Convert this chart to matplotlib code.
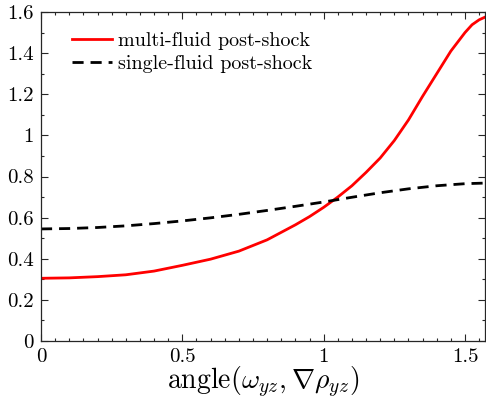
import numpy as np
import matplotlib
matplotlib.use('Agg')
import matplotlib.pyplot as plt
from matplotlib.ticker import MultipleLocator, FuncFormatter

plt.rcParams['font.family'] = ['cmr10', 'DejaVu Serif']
plt.rcParams['mathtext.fontset'] = 'cm'
plt.rcParams['axes.formatter.use_mathtext'] = True

# values
angle_multi = [0, 0.1, 0.2, 0.3, 0.4, 0.5, 0.6, 0.7, 0.8, 0.9, 0.95, 1.0,
               1.05, 1.1, 1.15, 1.2, 1.25, 1.3, 1.35, 1.4, 1.45, 1.5, 1.525,
               1.55, np.pi / 2]
multi_fluid = [0.305, 0.307, 0.313, 0.322, 0.34, 0.368, 0.398, 0.437, 0.492,
               0.565, 0.605, 0.65, 0.70, 0.755, 0.82, 0.89, 0.975, 1.075,
               1.19, 1.30, 1.41, 1.50, 1.538, 1.562, 1.575]
angle_single = [0, 0.1, 0.2, 0.3, 0.4, 0.5, 0.6, 0.7, 0.8, 0.9, 1.0, 1.1,
                1.2, 1.3, 1.4, 1.5, np.pi / 2]
single_fluid = [0.545, 0.547, 0.552, 0.56, 0.571, 0.584, 0.599, 0.616, 0.635,
                0.655, 0.676, 0.699, 0.721, 0.74, 0.755, 0.765, 0.768]

fig = plt.figure(figsize=(4.86, 4.0), dpi=100)
ax = fig.add_axes([41 / 486, 59 / 400, 444 / 486, 329 / 400])

ax.plot(angle_multi, multi_fluid, color='red', lw=2.0,
        label='multi-fluid post-shock')
ax.plot(angle_single, single_fluid, color='black', lw=2.0,
        dashes=(4, 2.5), label='single-fluid post-shock')

ax.set_xlim(0, np.pi / 2)
ax.set_ylim(0, 1.6)
ax.xaxis.set_major_locator(MultipleLocator(0.5))
ax.xaxis.set_minor_locator(MultipleLocator(0.05))
ax.yaxis.set_major_locator(MultipleLocator(0.2))
ax.yaxis.set_minor_locator(MultipleLocator(0.1))
fmt = FuncFormatter(lambda v, p: '%g' % round(v, 2))
ax.xaxis.set_major_formatter(fmt)
ax.yaxis.set_major_formatter(fmt)

ax.tick_params(which='both', direction='in', top=True, right=True,
               color='#262626', labelsize=15, width=0.8)
ax.tick_params(which='major', length=5, pad=5)
ax.tick_params(which='minor', length=2.5)
for s in ax.spines.values():
    s.set_color('#262626')
    s.set_linewidth(0.9)

ax.set_xlabel(r'angle$(\omega_{yz},\nabla\rho_{yz})$', fontsize=20,
              labelpad=-1)
ax.legend(loc='upper left', frameon=False, fontsize=14.5, handlelength=2.0,
          handletextpad=0.3, borderaxespad=0.0, labelspacing=0.25,
          borderpad=0.0, bbox_to_anchor=(0.07, 0.94))

fig.savefig('out.png', dpi=100)
